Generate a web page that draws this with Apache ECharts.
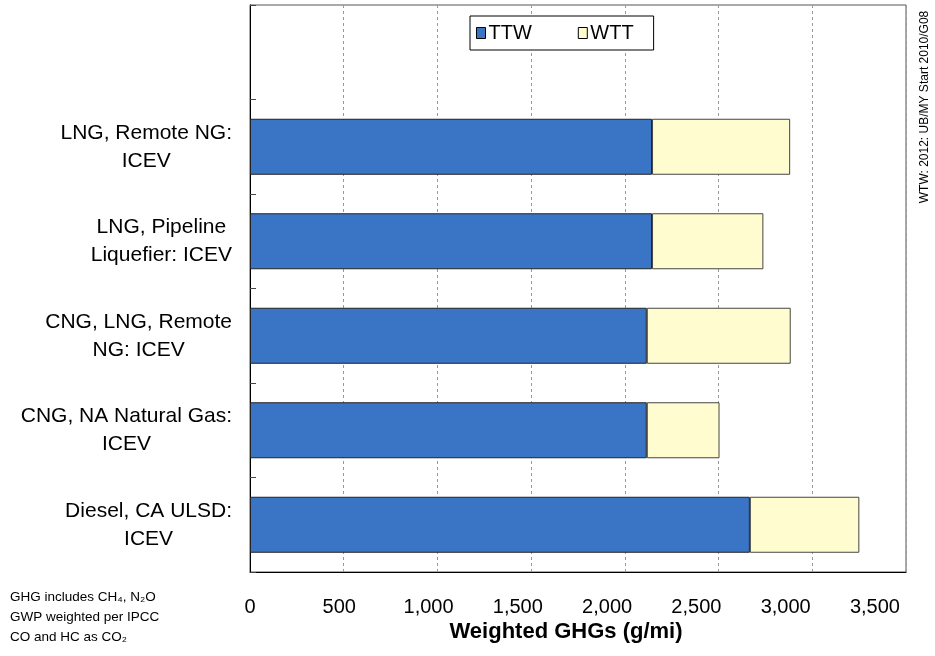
<!DOCTYPE html>
<html>
<head>
<meta charset="utf-8">
<script src="https://cdn.jsdelivr.net/npm/echarts@6/dist/echarts.min.js"></script>
<style>
html,body{margin:0;padding:0;background:#fff;}
#chart{width:935px;height:656px;}
</style>
</head>
<body>
<div id="chart"></div>
<script>
// Categories, bottom to top (top slot is empty, as in the reference)
const categories = [
  'Diesel, CA ULSD:\nICEV',
  'CNG, NA Natural Gas:\nICEV',
  'CNG, LNG, Remote\nNG: ICEV',
  'LNG, Pipeline\nLiquefier: ICEV',
  'LNG, Remote NG:\nICEV',
  ''
];
const ttwValues = [2667, 2117, 2117, 2145, 2145, null];
const wttValues = [584, 388, 768, 594, 737, null];
const seriesNames = ['TTW', 'WTT'];
const xTicks = [0, 500, 1000, 1500, 2000, 2500, 3000, 3500];
const xTitle = 'Weighted GHGs (g/mi)';
const footnoteLines = ['GHG includes CH\u2084, N\u2082O', 'GWP weighted per IPCC', 'CO and HC as CO\u2082'];
const sideNote = 'WTW: 2012: UB/MY Start 2010/G08';

const FONT = "'Liberation Sans', Arial, Helvetica, sans-serif";
const chart = echarts.init(document.getElementById('chart'), null, {renderer: 'canvas'});

const xMax = xTicks[xTicks.length - 1];
const option = {
  animation: false,
  backgroundColor: '#fff',
  grid: {left: 250, right: 29, top: 5, bottom: 84, show: true, borderColor: '#555', borderWidth: 1, containLabel: false},
  legend: {
    data: seriesNames,
    left: 470, top: 16,
    orient: 'horizontal',
    padding: [7, 20, 7, 6],
    itemGap: 46,
    itemWidth: 9, itemHeight: 11,
    borderColor: '#000', borderWidth: 1,
    backgroundColor: '#fff',
    icon: 'rect',
    itemStyle: {borderColor: '#000', borderWidth: 1},
    textStyle: {fontFamily: FONT, fontSize: 20, color: '#000', padding: [0, 0, 0, -2]}
  },
  xAxis: [
    {
      type: 'value',
      min: xTicks[0], max: xMax, interval: 500,
      name: xTitle,
      nameLocation: 'middle',
      nameGap: 49,
      nameTextStyle: {fontFamily: FONT, fontSize: 22, fontWeight: 'bold', color: '#000', padding: [0, 24, 0, 0]},
      axisLine: {show: true, lineStyle: {color: '#000', width: 1}},
      axisTick: {show: false},
      axisLabel: {show: false},
      splitLine: {show: true, lineStyle: {color: '#999', type: [3, 3], width: 1}}
    },
    {
      // label row: in the reference the tick labels are spaced slightly tighter than the gridlines
      type: 'value', position: 'bottom', gridIndex: 0,
      min: xTicks[0], max: Math.round(xMax * 656 / 625), interval: 500,
      axisLine: {show: false}, axisTick: {show: false}, splitLine: {show: false},
      axisLabel: {
        fontFamily: FONT, fontSize: 20, color: '#000', margin: 25,
        formatter: v => (xTicks.indexOf(v) >= 0 ? v.toLocaleString('en-US') : '')
      }
    }
  ],
  yAxis: {
    type: 'category',
    data: categories,
    axisLine: {show: true, lineStyle: {color: '#000', width: 1}},
    axisTick: {show: true, inside: true, length: 6, alignWithLabel: false, lineStyle: {color: '#444'}},
    axisLabel: {
      fontFamily: FONT, fontSize: 21, color: '#000', margin: 18, align: 'right',
      lineHeight: 28,
      formatter: v => v ? v.split('\n').map(s => '{c|' + s + '}').join('\n') : '',
      rich: {c: {align: 'center', fontFamily: FONT, fontSize: 21, color: '#000', lineHeight: 28}}
    },
    splitLine: {show: false}
  },
  series: [
    {
      name: seriesNames[0], type: 'bar', stack: 'total', data: ttwValues,
      xAxisIndex: 0, barWidth: 56,
      itemStyle: {color: '#3A74C4', borderColor: '#222', borderWidth: 1}
    },
    {
      name: seriesNames[1], type: 'bar', stack: 'total', data: wttValues,
      xAxisIndex: 0, barWidth: 56,
      itemStyle: {color: '#FFFDD0', borderColor: '#444', borderWidth: 1}
    }
  ],
  graphic: [
    ...footnoteLines.map((t, i) => ({
      type: 'text', left: 10, top: 590 + i * 20,
      style: {text: t, font: '13.5px ' + FONT, fill: '#000'}
    })),
    {
      type: 'text', x: 925, y: 107, rotation: Math.PI / 2,
      style: {text: sideNote, font: '12px ' + FONT, fill: '#000', align: 'center', verticalAlign: 'middle'}
    }
  ]
};
chart.setOption(option);
</script>
</body>
</html>
